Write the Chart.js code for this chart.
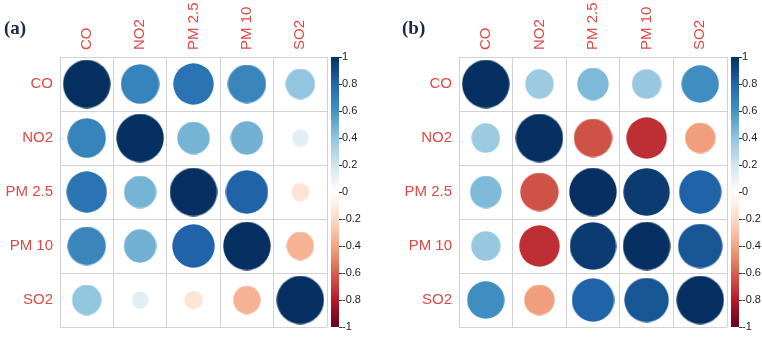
<!DOCTYPE html>
<html lang="en">
<head>
  <meta charset="UTF-8" />
  <title>Correlation plots</title>
  <script src="https://cdn.jsdelivr.net/npm/chart.js"></script>
  <style>
    body { margin: 0; background: #fff; }
    .wrap { position: relative; width: 762px; height: 348px; }
    .panel { position: absolute; top: 0; width: 381px; height: 348px; }
    .tag { position: absolute; font: bold 19px "Liberation Serif", "Times New Roman", serif; color: #1b2a47; }
  </style>
</head>
<body>
  <div class="wrap">
    <div class="panel" style="left:0"><canvas id="chartA"></canvas></div>
    <div class="panel" style="left:381px"><canvas id="chartB"></canvas></div>
    <div class="tag" style="left:4px;top:17px">(a)</div>
    <div class="tag" style="left:402px;top:17px">(b)</div>
  </div>

  <script>
    // variables (same order on both axes)
    const pollutants = ['CO', 'NO2', 'PM 2.5', 'PM 10', 'SO2'];

    // panel (a) correlations, one row per pollutant
    const corrA = [
      [1.00, 0.67, 0.74, 0.66, 0.40],
      [0.67, 1.00, 0.47, 0.48, 0.13],
      [0.74, 0.47, 1.00, 0.81, -0.15],
      [0.66, 0.48, 0.81, 1.00, -0.35],
      [0.40, 0.13, -0.15, -0.35, 1.00]
    ];

    // panel (b) correlations
    const corrB = [
      [1.00, 0.37, 0.45, 0.38, 0.62],
      [0.37, 1.00, -0.64, -0.74, -0.42],
      [0.45, -0.64, 1.00, 0.96, 0.81],
      [0.38, -0.74, 0.96, 1.00, 0.86],
      [0.62, -0.42, 0.81, 0.86, 1.00]
    ];

    // colour bar range
    const cbMin = -1, cbMax = 1, cbStep = 0.2;

    // RdBu palette, from -1 to 1
    const rdbu = ['#67001F', '#B2182B', '#D6604D', '#F4A582', '#FDDBC7', '#FFFFFF',
                  '#D1E5F0', '#92C5DE', '#4393C3', '#2166AC', '#053061'];

    const labelRed = '#de4a44';
    const gridGrey = '#d2d2d2';

    function hexRgb(h) {
      return [1, 3, 5].map(i => parseInt(h.slice(i, i + 2), 16));
    }

    function corrColor(v) {
      const t = (v - cbMin) / (cbMax - cbMin) * (rdbu.length - 1);
      const i = Math.min(Math.floor(t), rdbu.length - 2);
      const f = t - i;
      const a = hexRgb(rdbu[i]), b = hexRgb(rdbu[i + 1]);
      const c = a.map((x, k) => Math.round(x + (b[k] - x) * f));
      return `rgb(${c[0]},${c[1]},${c[2]})`;
    }

    function toPoints(m) {
      const pts = [];
      m.forEach((row, r) => row.forEach((v, c) => {
        pts.push({ x: pollutants[c], y: pollutants[r], v: v });
      }));
      return pts;
    }

    // corrplot style: area of the mark ~ |r|, drawn as an ellipse filling the cell
    const ellCache = {};
    function ellipseStyle(ctx) {
      if (!ctx.raw) return 'circle';
      const sc = ctx.chart.scales;
      const cw = sc.x.width / pollutants.length, ch = sc.y.height / pollutants.length;
      const s = 0.9 * Math.sqrt(Math.abs(ctx.raw.v));
      const w = Math.max(2, Math.round(s * cw)), h = Math.max(2, Math.round(s * ch));
      const col = corrColor(ctx.raw.v);
      const key = w + '|' + h + '|' + col;
      if (!ellCache[key]) {
        const cv = document.createElement('canvas');
        cv.width = w; cv.height = h;
        const g = cv.getContext('2d');
        g.fillStyle = col;
        g.beginPath();
        g.ellipse(w / 2, h / 2, w / 2 - 0.3, h / 2 - 0.3, 0, 0, Math.PI * 2);
        g.fill();
        ellCache[key] = cv;
      }
      return ellCache[key];
    }

    const colorBar = {
      id: 'colorBar',
      afterDraw(chart) {
        const cb = chart.scales.cb;
        const c = chart.ctx;
        const x0 = chart.chartArea.right + 4, bw = 8;
        const grad = c.createLinearGradient(0, cb.top, 0, cb.bottom);
        rdbu.forEach((col, i) => grad.addColorStop(1 - i / (rdbu.length - 1), col));
        c.save();
        c.fillStyle = grad;
        c.fillRect(x0, cb.top, bw, cb.bottom - cb.top);
        c.strokeStyle = '#333';
        c.lineWidth = 1;
        cb.ticks.forEach(t => {
          const y = Math.round(cb.getPixelForValue(t.value)) + 0.5;
          c.beginPath();
          c.moveTo(x0 + bw, y);
          c.lineTo(x0 + bw + 3, y);
          c.stroke();
        });
        c.restore();
      }
    };

    function makeChart(id, matrix, leftW, rightW, bottomPad) {
      return new Chart(document.getElementById(id), {
        type: 'scatter',
        data: {
          datasets: [{
            data: toPoints(matrix),
            pointStyle: ellipseStyle,
            pointRadius: 20,
            pointHoverRadius: 20,
            backgroundColor: ctx => ctx.raw ? corrColor(ctx.raw.v) : '#000'
          }]
        },
        options: {
          responsive: true,
          maintainAspectRatio: false,
          animation: false,
          layout: { padding: { top: 0, right: 0, left: 0, bottom: bottomPad } },
          plugins: { legend: { display: false }, tooltip: { enabled: false } },
          scales: {
            x: {
              type: 'category',
              labels: pollutants,
              position: 'top',
              offset: true,
              grid: { offset: true, color: gridGrey, drawTicks: false },
              border: { color: gridGrey },
              ticks: {
                autoSkip: false, minRotation: 90, maxRotation: 90, padding: 7, labelOffset: 18,
                color: labelRed, font: { family: 'Arial, "Liberation Sans"', size: 15 }
              },
              afterFit: s => { s.height = 57; }
            },
            y: {
              type: 'category',
              labels: pollutants,
              offset: true,
              grid: { offset: true, color: gridGrey, drawTicks: false },
              border: { color: gridGrey },
              ticks: {
                autoSkip: false, padding: 7,
                color: labelRed, font: { family: 'Arial, "Liberation Sans"', size: 15 }
              },
              afterFit: s => { s.width = leftW; }
            },
            cb: {
              type: 'linear',
              position: 'right',
              min: cbMin, max: cbMax,
              grid: { drawOnChartArea: false, color: 'rgba(0,0,0,0)', tickLength: 15 },
              border: { display: false },
              ticks: {
                stepSize: cbStep, padding: 0, color: '#222',
                font: { family: 'Arial, "Liberation Sans"', size: 11 },
                callback: v => String(Number(v.toFixed(1)))
              },
              afterFit: s => { s.width = rightW; }
            }
          }
        },
        plugins: [colorBar]
      });
    }

    makeChart('chartA', corrA, 60, 54, 9);
    makeChart('chartB', corrB, 78, 35, 8);
  </script>
</body>
</html>
